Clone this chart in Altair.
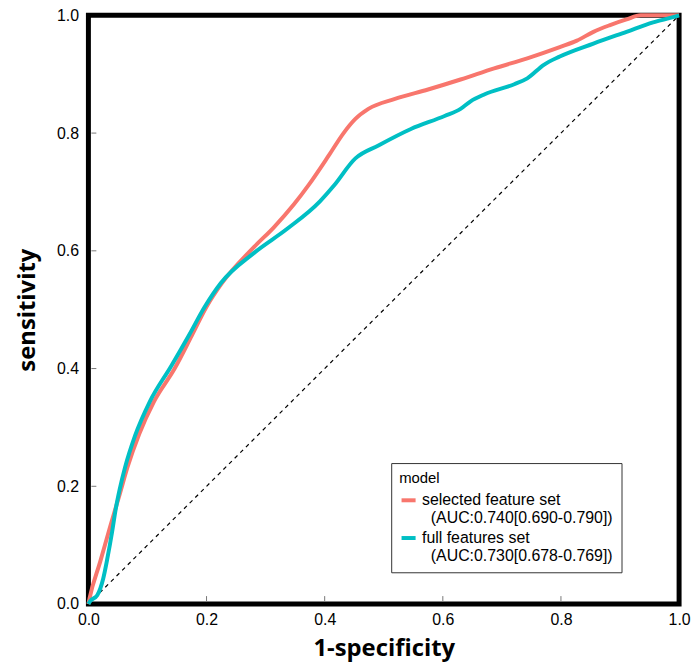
import altair as alt
import pandas as pd

# ROC curve points
sel_x = [0.0, 0.002, 0.02, 0.037, 0.054, 0.066, 0.086, 0.111, 0.146, 0.175, 0.2, 0.226, 0.281, 0.314, 0.348, 0.373,
         0.407, 0.432, 0.452, 0.474, 0.519, 0.575, 0.630, 0.687, 0.743, 0.798, 0.827, 0.855, 0.882, 0.911, 0.935, 1.0]
sel_y = [0.0, 0.01, 0.072, 0.132, 0.19, 0.232, 0.289, 0.344, 0.40, 0.456, 0.505, 0.545, 0.607, 0.640, 0.679, 0.712,
         0.762, 0.80, 0.824, 0.841, 0.858, 0.874, 0.891, 0.910, 0.927, 0.946, 0.957, 0.972, 0.983, 0.993, 1.0, 1.0]

full_x = [0.0, 0.003, 0.015, 0.025, 0.032, 0.04, 0.046, 0.053, 0.062, 0.079, 0.104, 0.140, 0.171, 0.197, 0.224, 0.281,
          0.336, 0.392, 0.415, 0.452, 0.491, 0.546, 0.603, 0.630, 0.647, 0.671, 0.721, 0.743, 0.771, 0.798, 0.855,
          0.911, 0.956, 0.99, 1.0]
full_y = [0.0, 0.005, 0.015, 0.043, 0.077, 0.122, 0.16, 0.195, 0.232, 0.286, 0.344, 0.404, 0.458, 0.505, 0.545, 0.597,
          0.637, 0.684, 0.710, 0.757, 0.779, 0.807, 0.829, 0.841, 0.854, 0.866, 0.883, 0.893, 0.916, 0.930, 0.952,
          0.972, 0.988, 0.997, 1.0]

models = ["selected feature set", "full features set"]
auc_text = ["(AUC:0.740[0.690-0.790])", "(AUC:0.730[0.678-0.769])"]
colors = ["#F8766D", "#00BFC4"]
tick_vals = [0.0, 0.2, 0.4, 0.6, 0.8, 1.0]
inner_ticks = [0.2, 0.4, 0.6, 0.8]

rows = []
for i, (x, y) in enumerate(zip(sel_x, sel_y)):
    rows.append({"fpr": x, "tpr": y, "model": models[0], "o": i})
for i, (x, y) in enumerate(zip(full_x, full_y)):
    rows.append({"fpr": x, "tpr": y, "model": models[1], "o": i})
df = pd.DataFrame(rows)

W, H = 595, 593

xscale = alt.Scale(domain=[0, 1], nice=False)
yscale = alt.Scale(domain=[0, 1], nice=False)

pad = "\u200b\u00a0\u00a0"
label_expr = (
    f"datum.label == '{models[0]}' ? ['{models[0]}', '{pad}{auc_text[0]}'] : "
    f"['{models[1]}', '{pad}{auc_text[1]}']"
)

lines = alt.Chart(df).mark_line(strokeWidth=4, interpolate="monotone").encode(
    x=alt.X("fpr:Q", scale=xscale, title="1-specificity",
            axis=alt.Axis(values=tick_vals, format=".1f")),
    y=alt.Y("tpr:Q", scale=yscale, title="sensitivity",
            axis=alt.Axis(values=tick_vals, format=".1f")),
    color=alt.Color("model:N", scale=alt.Scale(domain=models, range=colors),
                    legend=alt.Legend(title="model", orient="none", legendX=305, legendY=451,
                                      labelExpr=label_expr)),
    order="o:Q",
)

diag = alt.Chart(pd.DataFrame({"a": [0.0, 1.0]})).mark_line(
    color="black", strokeWidth=1.2, strokeDash=[4, 4]
).encode(x=alt.X("a:Q", scale=xscale), y=alt.Y("a:Q", scale=yscale))

xt = alt.Chart(pd.DataFrame({"v": inner_ticks})).mark_rule(color="#777", strokeWidth=1).encode(
    x=alt.X("v:Q", scale=xscale), y=alt.value(H - 3), y2=alt.value(H - 8))
yt = alt.Chart(pd.DataFrame({"v": inner_ticks})).mark_rule(color="#777", strokeWidth=1).encode(
    y=alt.Y("v:Q", scale=yscale), x=alt.value(3), x2=alt.value(8))

chart = alt.layer(diag, lines, xt, yt).properties(
    width=W, height=H,
    autosize=alt.AutoSizeParams(type="none"),
    padding={"left": 81, "top": 5, "right": 12, "bottom": 58},
).configure_view(
    stroke="black", strokeWidth=5
).configure_axis(
    domain=False, ticks=False, grid=False, labelFlush=False,
    labelFont="Liberation Sans", labelFontSize=16, labelColor="black",
    titleFont="Open Sans", titleFontSize=24, titleFontWeight="bold", titleColor="black",
).configure_axisX(
    labelPadding=8, titlePadding=9,
).configure_axisY(
    labelPadding=10, titlePadding=17,
).configure_legend(
    labelFont="Liberation Sans", labelFontSize=16, labelColor="black", labelLimit=0,
    titleFont="Liberation Sans", titleFontSize=15, titleFontWeight="normal", titleColor="black",
    strokeColor="#333", fillColor="white", padding=8, symbolType="stroke",
    symbolStrokeWidth=4, symbolSize=200, rowPadding=2,
)

chart.save("out.html", embed_options={"renderer": "svg", "actions": False})
